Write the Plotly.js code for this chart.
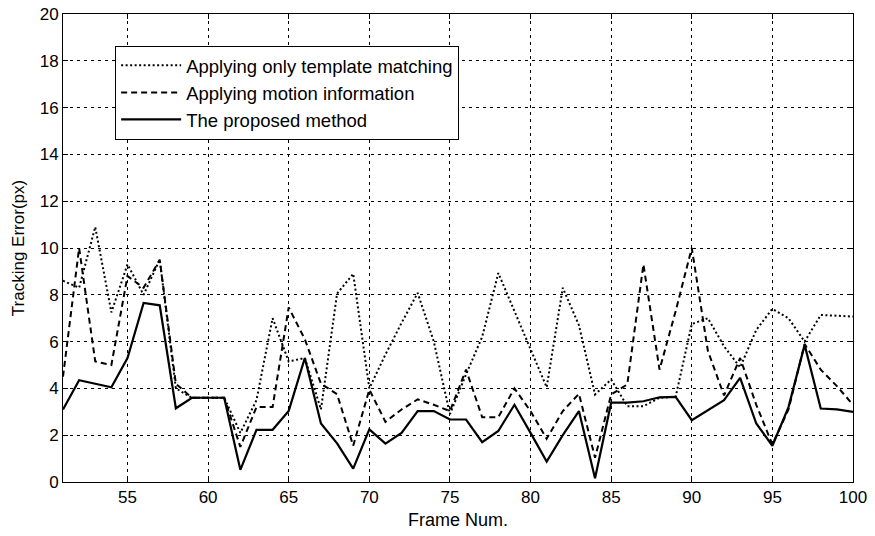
<!DOCTYPE html>
<html>
<head>
<meta charset="utf-8">
<script src="https://cdn.plot.ly/plotly-3.0.1.min.js"></script>
<style>
  html, body { margin: 0; padding: 0; background: #ffffff; }
  #chart { width: 875px; height: 536px; }
</style>
</head>
<body>
<div id="chart"></div>
<script>
var frames = [];
for (var f = 51; f <= 100; f++) frames.push(f);

var templateMatching = [
  8.6, 8.3, 10.9, 7.25, 9.3, 8.0, 9.5, 4.0, 3.6, 3.6,
  3.6, 2.1, 3.5, 7.0, 5.15, 5.3, 3.1, 8.05, 8.9, 4.0,
  5.45, 6.8, 8.08, 6.0, 2.9, 4.6, 6.2, 8.93, 7.3, 5.7,
  4.05, 8.3, 6.7, 3.74, 4.38, 3.24, 3.24, 3.6, 3.64, 6.75,
  7.0, 5.8, 4.9, 6.5, 7.4, 7.0, 6.0, 7.14, 7.1, 7.07
];

var motionInfo = [
  4.5, 10.0, 5.15, 5.0, 8.8, 8.3, 9.5, 4.2, 3.6, 3.6,
  3.6, 1.5, 3.2, 3.2, 7.46, 6.1, 4.2, 3.75, 1.55, 3.95,
  2.57, 3.1, 3.53, 3.3, 3.03, 4.8, 2.77, 2.77, 4.0, 3.03,
  1.85, 3.03, 3.77, 1.04, 3.74, 4.17, 9.3, 4.8, 7.3, 10.0,
  5.6, 3.7, 5.3, 3.3, 1.6, 3.1, 5.9, 4.8, 4.1, 3.3
];

var proposed = [
  3.1, 4.35, 4.2, 4.05, 5.3, 7.65, 7.55, 3.15, 3.6, 3.6,
  3.6, 0.52, 2.23, 2.23, 3.04, 5.3, 2.5, 1.65, 0.57, 2.25,
  1.64, 2.1, 3.03, 3.03, 2.67, 2.67, 1.7, 2.18, 3.3, 2.1,
  0.87, 2.0, 3.03, 0.16, 3.39, 3.39, 3.45, 3.62, 3.64, 2.64,
  3.07, 3.5, 4.45, 2.5, 1.55, 3.2, 5.86, 3.14, 3.1, 3.0
];

var seriesNames = [
  'Applying only template matching',
  'Applying motion information',
  'The proposed method'
];

var xTicks = [55, 60, 65, 70, 75, 80, 85, 90, 95, 100];
var yTicks = [0, 2, 4, 6, 8, 10, 12, 14, 16, 18, 20];

var font = '"Liberation Sans", Arial, sans-serif';

var traces = [
  { x: frames, y: templateMatching, name: seriesNames[0], mode: 'lines',
    line: { color: '#000', width: 2, dash: '2px,2.5px' }, legendgroup: 'a' },
  { x: frames, y: motionInfo, name: seriesNames[1], mode: 'lines',
    line: { color: '#000', width: 2, dash: '6px,4px' }, legendgroup: 'b' },
  { x: frames, y: proposed, name: seriesNames[2], mode: 'lines',
    line: { color: '#000', width: 2.2 }, legendgroup: 'c' }
];

var axisCommon = {
  showline: true, linecolor: '#000', linewidth: 1, mirror: 'ticks',
  ticks: 'inside', ticklen: 5, tickcolor: '#000', tickwidth: 1,
  showgrid: true, gridcolor: '#000', gridwidth: 1, griddash: '3px,4px',
  zeroline: false,
  tickfont: { family: font, size: 17, color: '#000' }
};

var layout = {
  width: 875, height: 536,
  margin: { l: 63, r: 22, t: 14, b: 54 },
  paper_bgcolor: '#fff', plot_bgcolor: '#fff',
  showlegend: true,
  xaxis: Object.assign({}, axisCommon, {
    range: [51, 100], tickvals: xTicks, ticktext: xTicks.map(String),
    title: { text: 'Frame Num.', font: { family: font, size: 18, color: '#000' }, standoff: 6 }
  }),
  yaxis: Object.assign({}, axisCommon, {
    range: [0, 20], tickvals: yTicks, ticktext: yTicks.map(String),
    title: { text: 'Tracking Error(px)', font: { family: font, size: 17, color: '#000' }, standoff: 10 }
  }),
  legend: {
    x: 0.066, y: 0.932, xanchor: 'left', yanchor: 'top',
    bgcolor: '#fff', bordercolor: '#000', borderwidth: 1,
    font: { family: font, size: 18.5, color: '#000' },
    tracegroupgap: 0, itemwidth: 60
  }
};

Plotly.newPlot('chart', traces, layout, { displayModeBar: false, staticPlot: true });
</script>
</body>
</html>
